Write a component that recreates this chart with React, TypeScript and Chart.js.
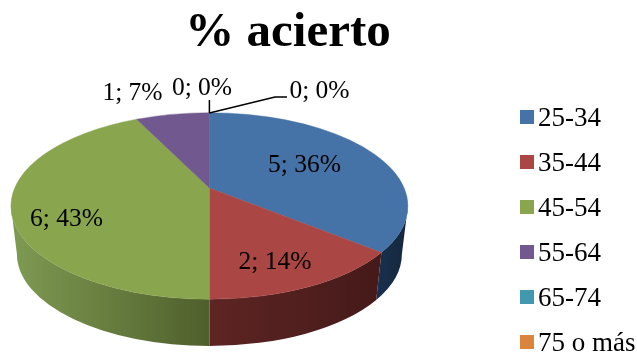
import React, { useEffect, useRef } from "react";
import { Chart, registerables, ArcElement, PieController } from "chart.js";

const TITLE = "% acierto";
const ageGroups = ["25-34", "35-44", "45-54", "55-64", "65-74", "75 o más"];
const hits = [5, 2, 6, 1, 0, 0];
const sliceColors = ["#4572A7", "#AA4643", "#89A54E", "#71588F", "#4198AF", "#DB843D"];
const FONT = '"Liberation Serif", serif';

// Geometry of the tilted disc: the rim ellipse, the lower rim, and the point
// where the slices meet, which perspective lifts above the ellipse centre.
const disc = { cx: 209.4, cy: 206, rx: 198.5, ry: 93.3 };
const base = { cx: 209.4, cy: 254, rx: 192.5, ry: 92 };
const apex = { x: 209.4, y: 188 };
// Foreshortening of the angles caused by the perspective tilt
const PERSPECTIVE = 0.833;

// Side wall shading per slice: left and right ends of a horizontal gradient
const wallShades: Record<number, [string, string, number, number]> = {
  0: ["#18304F", "#16293F", 376, 402],
  1: ["#5E2524", "#451A19", 209, 376],
  2: ["#7E9A52", "#4F5F2C", 14, 209],
};

// Where each value label sits (centre x, baseline y)
const labelSpots = [
  { x: 304.5, y: 172 },
  { x: 275, y: 269 },
  { x: 66.5, y: 226 },
  { x: 132.5, y: 100 },
  { x: 202, y: 95 },
  { x: 319.5, y: 98 },
];

const legendBox = { x: 520, top: 110, size: 14, step: 45, textX: 538, baseline: 16 };

function tiltAngle(a: number): number {
  const half = (a + Math.PI / 2) / 2;
  return 2 * Math.atan2(PERSPECTIVE * Math.sin(half), Math.cos(half)) - Math.PI / 2;
}

// A pie slice painted on the tilted disc, using the angles and radius the
// controller computed for it.
class TiltedArc extends ArcElement {
  static id = "tiltedArc";
  draw(ctx: CanvasRenderingContext2D) {
    const self = this as any;
    if (!self.circumference) return;
    const color = self.options.backgroundColor;
    ctx.save();
    ctx.fillStyle = color;
    ctx.strokeStyle = color;
    ctx.lineWidth = 0.4;
    ctx.beginPath();
    ctx.moveTo(apex.x, apex.y);
    ctx.ellipse(
      disc.cx,
      disc.cy,
      self.outerRadius,
      (self.outerRadius * disc.ry) / disc.rx,
      0,
      self.startAngle,
      self.endAngle
    );
    ctx.closePath();
    ctx.fill();
    ctx.stroke();
    ctx.restore();
  }
}

class TiltedPieController extends PieController {
  static id = "tiltedPie";
  static defaults = { dataElementType: "tiltedArc" };
}

Chart.register(...registerables, TiltedArc, TiltedPieController);

const pie3d = {
  id: "pie3d",
  afterDatasetsUpdate(chart: any) {
    for (const arc of chart.getDatasetMeta(0).data) {
      const start = tiltAngle(arc.startAngle);
      const end = tiltAngle(arc.endAngle);
      arc.startAngle = start;
      arc.endAngle = end;
      arc.circumference = end - start;
    }
  },
  beforeDatasetsDraw(chart: any) {
    const { ctx } = chart;
    chart.getDatasetMeta(0).data.forEach((arc: any, i: number) => {
      const shade = wallShades[i];
      if (!shade) return;
      const from = Math.max(arc.startAngle, 0);
      const to = Math.min(arc.endAngle, Math.PI);
      if (to <= from) return;
      const g = ctx.createLinearGradient(shade[2], 0, shade[3], 0);
      g.addColorStop(0, shade[0]);
      g.addColorStop(1, shade[1]);
      ctx.save();
      ctx.beginPath();
      ctx.ellipse(disc.cx, disc.cy, disc.rx, disc.ry, 0, from, to);
      ctx.ellipse(base.cx, base.cy, base.rx, base.ry, 0, to, from, true);
      ctx.closePath();
      ctx.fillStyle = g;
      ctx.fill();
      ctx.restore();
    });
  },
  afterDraw(chart: any) {
    const { ctx } = chart;
    const total = hits.reduce((s, v) => s + v, 0);

    // Leader lines of the two empty slices
    ctx.save();
    ctx.strokeStyle = "#000";
    ctx.lineWidth = 1.5;
    ctx.beginPath();
    ctx.moveTo(209.4, 113);
    ctx.lineTo(209.4, 100);
    ctx.moveTo(209.4, 113);
    ctx.lineTo(275, 97);
    ctx.lineTo(287, 97);
    ctx.stroke();

    // Value labels
    ctx.fillStyle = "#000";
    ctx.font = `25.5px ${FONT}`;
    ctx.textAlign = "center";
    ctx.textBaseline = "alphabetic";
    hits.forEach((v, i) => {
      const spot = labelSpots[i];
      ctx.fillText(`${v}; ${Math.round((v / total) * 100)}%`, spot.x, spot.y);
    });

    // Legend column
    ctx.font = `27px ${FONT}`;
    ctx.textAlign = "left";
    ageGroups.forEach((name, i) => {
      const y = legendBox.top + i * legendBox.step;
      ctx.fillStyle = sliceColors[i];
      ctx.fillRect(legendBox.x, y, legendBox.size, legendBox.size);
      ctx.fillStyle = "#000";
      ctx.fillText(name, legendBox.textX, y + legendBox.baseline);
    });
    ctx.restore();
  },
};

export default function App() {
  const ref = useRef<HTMLCanvasElement>(null);
  useEffect(() => {
    const chart = new Chart(ref.current!, {
      type: "tiltedPie",
      data: {
        labels: ageGroups,
        datasets: [
          {
            data: hits,
            backgroundColor: sliceColors,
            borderWidth: 0,
            clip: false,
          } as any,
        ],
      },
      options: {
        responsive: false,
        animation: false,
        radius: disc.rx,
        layout: { padding: { right: 61 } },
        plugins: {
          legend: { display: false },
          tooltip: { enabled: false },
          title: {
            display: true,
            text: TITLE,
            color: "#000",
            font: { family: FONT, size: 49, weight: "bold" },
            padding: { top: 4, bottom: 0 },
          },
        },
      } as any,
      plugins: [pie3d],
    } as any);
    return () => chart.destroy();
  }, []);
  return (
    <div style={{ position: "fixed", left: 0, top: 0, width: 637, height: 352 }}>
      <canvas ref={ref} width={637} height={352} style={{ display: "block" }} />
    </div>
  );
}
